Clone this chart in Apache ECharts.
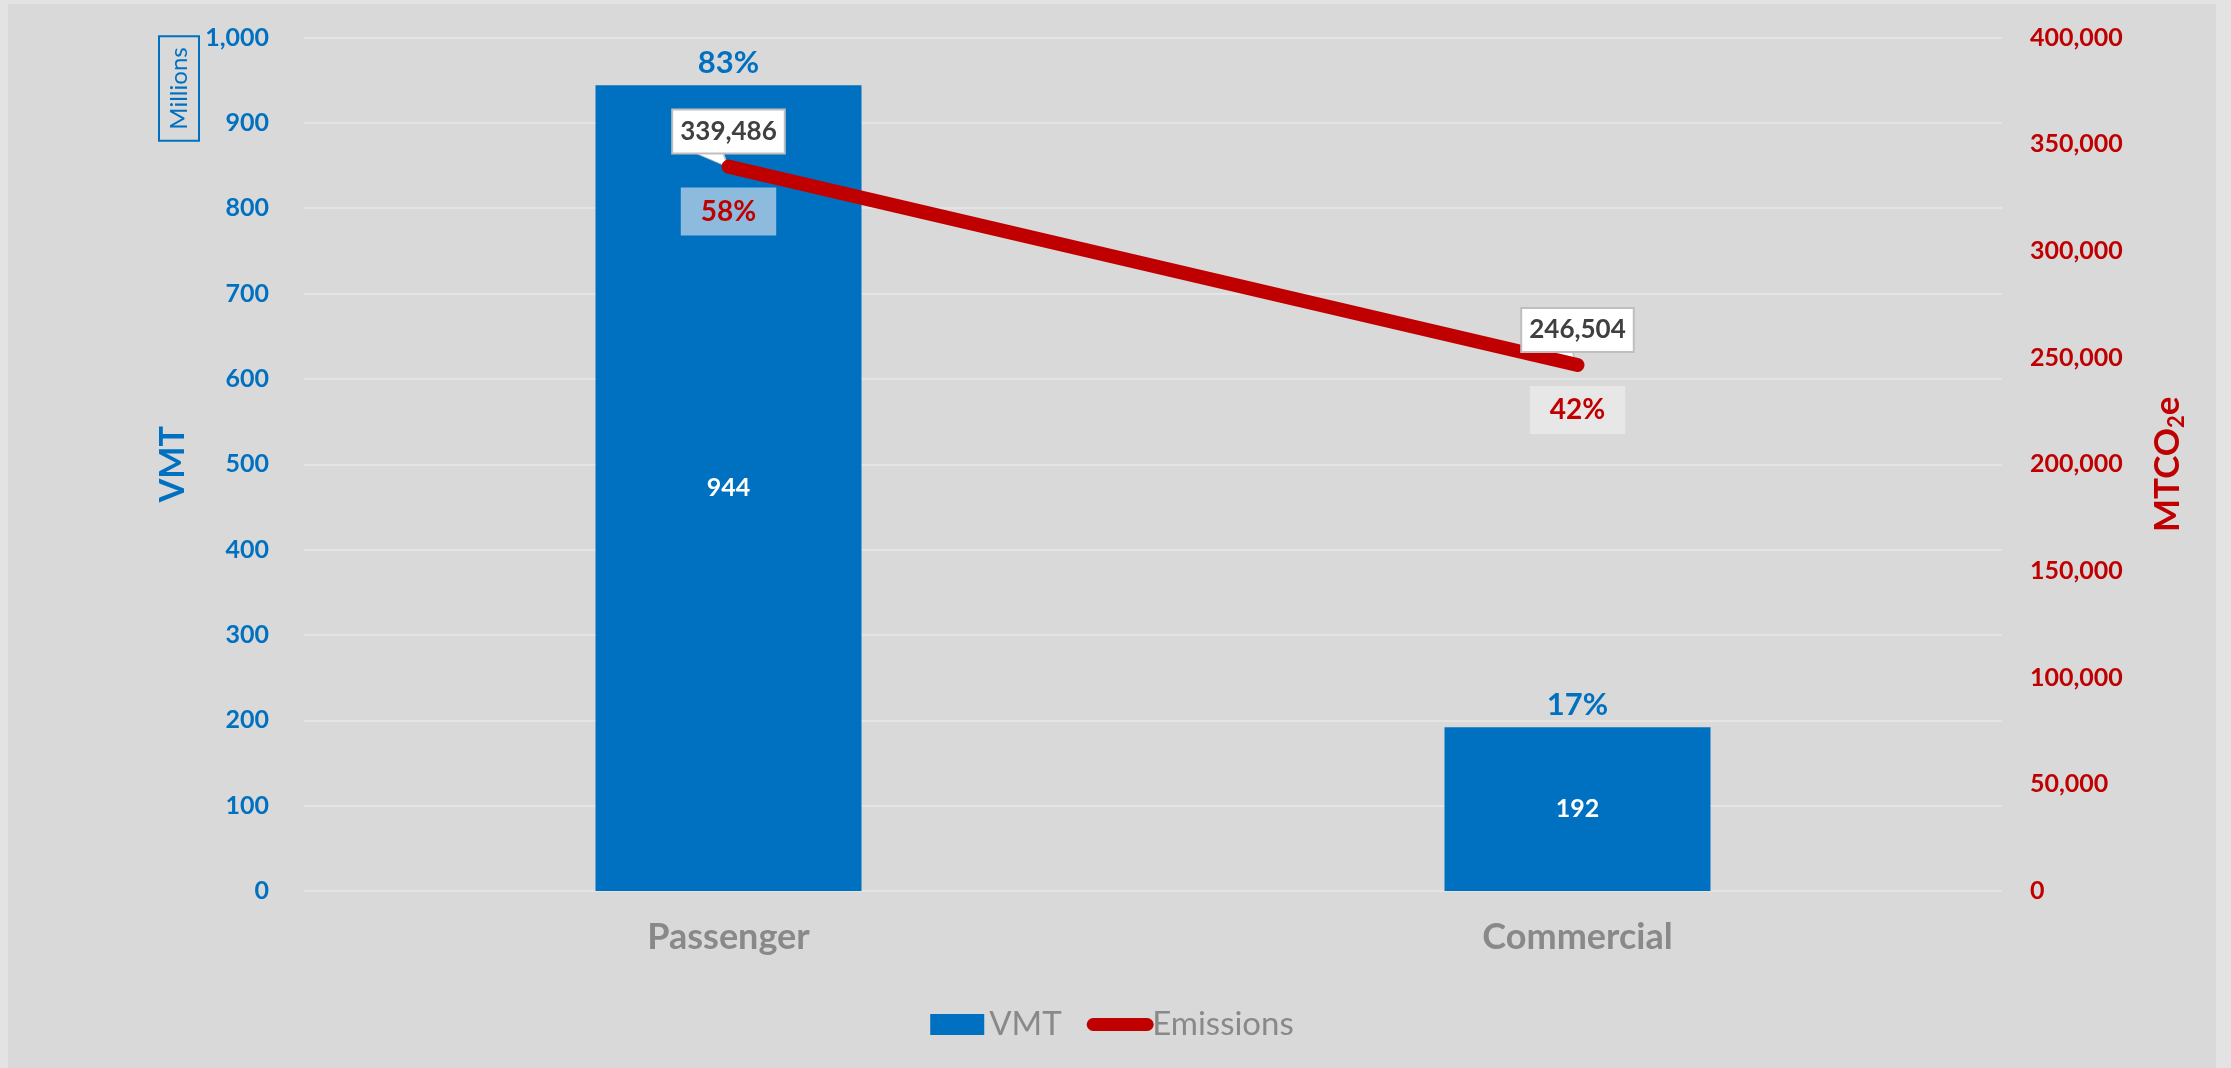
<!DOCTYPE html>
<html>
<head>
<meta charset="utf-8">
<script src="https://cdn.jsdelivr.net/npm/echarts@6/dist/echarts.min.js"></script>
<style>
  html, body { margin: 0; padding: 0; background: #e3e3e3; width: 2231px; height: 1068px; overflow: hidden; }
  #chart { position: absolute; left: 8px; top: 4px; width: 2208px; height: 1064px; }
</style>
</head>
<body>
<div id="chart"></div>
<script>
const categories = ['Passenger', 'Commercial'];
const vmtValues = [944, 192];
const vmtShare = [83, 17];
const emissionValues = [339486, 246504];
const emissionShare = [58, 42];

const FONT = 'Lato, "Open Sans", sans-serif';
const BLUE = '#0070c0';
const RED = '#c00000';
const GREY = '#898989';

const chart = echarts.init(document.getElementById('chart'));
const fmt = v => Number(v).toLocaleString('en-US');

chart.setOption({
  backgroundColor: '#d9d9d9',
  textStyle: { fontFamily: FONT },
  animation: false,
  grid: { left: 296, right: 214, top: 33.5, bottom: 177, containLabel: false },
  legend: {
    bottom: 27,
    left: 'center',
    padding: 0,
    itemGap: 25,
    itemWidth: 54,
    itemHeight: 21,
    textStyle: { color: GREY, fontSize: 33, fontFamily: FONT },
    data: [
      { name: 'VMT', icon: 'rect' },
      { name: 'Emissions', lineStyle: { width: 13 } }
    ]
  },
  xAxis: {
    type: 'category',
    data: categories,
    axisLine: { show: false },
    axisTick: { show: false },
    axisLabel: { color: GREY, fontSize: 36, fontWeight: 'bold', margin: 28, fontFamily: FONT }
  },
  yAxis: [
    {
      type: 'value',
      min: 0, max: 1000, interval: 100,
      name: 'VMT',
      nameLocation: 'middle',
      nameRotate: 90,
      nameGap: 114,
      nameTextStyle: { color: BLUE, fontSize: 34, fontWeight: 'bold', fontFamily: FONT },
      axisLine: { show: false },
      axisTick: { show: false },
      splitLine: { lineStyle: { color: '#e4e4e4', width: 2 } },
      axisLabel: { color: BLUE, fontSize: 25, fontWeight: 'bold', margin: 35, fontFamily: FONT, formatter: v => fmt(v) }
    },
    {
      type: 'value',
      min: 0, max: 400000, interval: 50000,
      name: '{a|MTCO}{s|2}{a|e}',
      nameLocation: 'middle',
      nameRotate: 90,
      nameGap: 146,
      nameTextStyle: {
        color: RED, fontFamily: FONT,
        rich: {
          a: { fontSize: 35, fontWeight: 'bold', color: RED, fontFamily: FONT, lineHeight: 40 },
          s: { fontSize: 22, fontWeight: 'bold', color: RED, fontFamily: FONT, lineHeight: 40, verticalAlign: 'bottom' }
        }
      },
      axisLine: { show: false },
      axisTick: { show: false },
      splitLine: { show: false },
      axisLabel: { color: RED, fontSize: 25, fontWeight: 'bold', margin: 28, fontFamily: FONT, formatter: v => fmt(v) }
    }
  ],
  graphic: [
    {
      type: 'text',
      x: 171, y: 84.5,
      rotation: Math.PI / 2,
      style: {
        text: 'Millions',
        fill: BLUE,
        font: '24px ' + FONT,
        textAlign: 'center',
        textVerticalAlign: 'middle',
        borderColor: BLUE,
        borderWidth: 2,
        padding: [8, 11, 8, 11]
      }
    }
  ],
  series: [
    {
      name: 'VMT',
      type: 'bar',
      data: vmtValues,
      barWidth: 266,
      barGap: '-100%',
      itemStyle: { color: BLUE },
      label: { show: true, position: 'inside', color: '#ffffff', fontSize: 25, fontWeight: 'bold', fontFamily: FONT },
      z: 2
    },
    {
      name: 'VMTShare',
      type: 'bar',
      data: vmtValues,
      barWidth: 266,
      barGap: '-100%',
      itemStyle: { color: 'rgba(0,0,0,0)' },
      label: {
        show: true, position: 'top', distance: 7,
        color: BLUE, fontSize: 31, fontWeight: 'bold', fontFamily: FONT,
        formatter: p => vmtShare[p.dataIndex] + '%'
      },
      z: 1,
      silent: true
    },
    {
      name: 'Emissions',
      type: 'line',
      yAxisIndex: 1,
      data: emissionValues,
      symbol: 'circle',
      symbolSize: 2,
      itemStyle: { color: 'rgba(192,0,0,0)' },
      lineStyle: { color: RED, width: 14, cap: 'round' },
      label: {
        show: true, position: 'top', distance: 13,
        color: '#404040', fontSize: 26, fontWeight: 'bold', fontFamily: FONT,
        backgroundColor: '#ffffff', borderColor: '#bfbfbf', borderWidth: 2,
        padding: [8, 7, 8, 7],
        formatter: p => fmt(p.value)
      },
      markPoint: {
        symbol: 'path://M0,0L30,0L35,14Z',
        symbolSize: [35, 15],
        symbolOffset: [-18, -7],
        itemStyle: { color: '#ffffff', borderColor: '#bfbfbf', borderWidth: 1 },
        label: { show: false },
        silent: true,
        data: emissionValues.map((v, i) => ({ coord: [i, v] }))
      },
      z: 5
    },
    {
      name: 'EmissionsShare',
      type: 'line',
      yAxisIndex: 1,
      data: emissionValues,
      symbol: 'circle',
      symbolSize: 2,
      itemStyle: { color: 'rgba(0,0,0,0)' },
      lineStyle: { opacity: 0 },
      label: {
        show: true, position: 'bottom', distance: 20,
        color: RED, fontSize: 28, fontWeight: 'bold', fontFamily: FONT,
        backgroundColor: 'rgba(242,242,242,0.58)',
        padding: [10, 20, 10, 20],
        formatter: p => emissionShare[p.dataIndex] + '%'
      },
      z: 4,
      silent: true
    }
  ]
});
</script>
</body>
</html>
